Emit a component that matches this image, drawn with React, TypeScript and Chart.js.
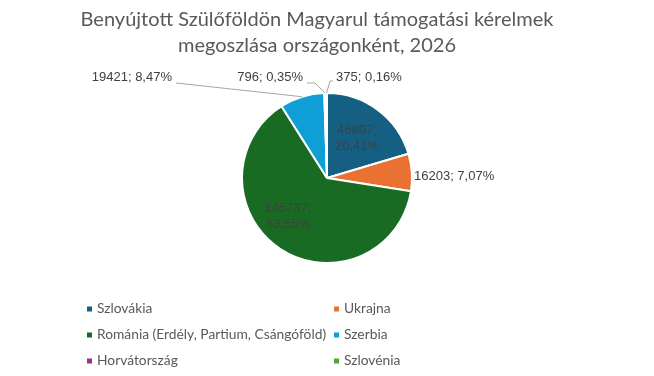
import { useEffect, useRef } from "react";
import { Chart, registerables } from "chart.js";

Chart.register(...registerables);

const titleLines = [
  "Benyújtott Szülőföldön Magyarul támogatási kérelmek",
  "megoszlása országonként, 2026",
];
const countries = [
  "Szlovákia",
  "Ukrajna",
  "Románia (Erdély, Partium, Csángóföld)",
  "Szerbia",
  "Horvátország",
  "Szlovénia",
];
const requests = [46807, 16203, 145737, 19421, 796, 375];
const sliceColors = ["#156082", "#E97132", "#196B24", "#0F9ED5", "#A02B93", "#4EA72E"];

// Label placement relative to pie centre (annotation layout only)
type LabelPos = {
  dx: number;
  dy: number;
  align: CanvasTextAlign;
  split: boolean;
  leader?: number[][]; // points relative to centre, ending at the arc anchor
};
const labelLayout: LabelPos[] = [
  { dx: 30, dy: -40, align: "center", split: true },
  { dx: 87, dy: -2, align: "left", split: false },
  { dx: -39, dy: 38, align: "center", split: true },
  { dx: -155, dy: -101, align: "right", split: false, leader: [[-151, -95]] },
  { dx: -24, dy: -101, align: "right", split: false, leader: [[-20, -95], [-12, -95]] },
  { dx: 9, dy: -101, align: "left", split: false, leader: [[6, -97], [3, -97]] },
];

const FONT_UI = "Lato, 'Open Sans', sans-serif";
const FONT_LABEL = "'Liberation Sans', Arial, sans-serif";

function fmtPct(v: number, total: number) {
  return ((v / total) * 100).toFixed(2).replace(".", ",") + "%";
}

const annotatePlugin = {
  id: "annotate",
  afterDraw(chart: any) {
    const ctx: CanvasRenderingContext2D = chart.ctx;
    const meta = chart.getDatasetMeta(0);
    const total = requests.reduce((a, b) => a + b, 0);
    ctx.save();
    // Title
    ctx.fillStyle = "#595959";
    ctx.font = `20px ${FONT_UI}`;
    ctx.textAlign = "center";
    ctx.textBaseline = "middle";
    ctx.fillText(titleLines[0], 317, 20);
    ctx.fillText(titleLines[1], 317, 46);

    // Data labels
    meta.data.forEach((arc: any, i: number) => {
      const lay = labelLayout[i];
      const cx = arc.x;
      const cy = arc.y;
      const mid = (arc.startAngle + arc.endAngle) / 2;
      const r = arc.outerRadius;
      const ax = cx + Math.cos(mid) * r;
      const ay = cy + Math.sin(mid) * r;
      if (lay.leader) {
        ctx.strokeStyle = "#A6A6A6";
        ctx.lineWidth = 1;
        ctx.beginPath();
        lay.leader.forEach((p, k) => {
          const px = cx + p[0];
          const py = cy + p[1];
          if (k === 0) ctx.moveTo(px, py);
          else ctx.lineTo(px, py);
        });
        ctx.lineTo(ax, ay);
        ctx.stroke();
      }
      ctx.fillStyle = "#404040";
      ctx.font = `13px ${FONT_LABEL}`;
      ctx.textAlign = lay.align;
      ctx.textBaseline = "middle";
      const v = requests[i];
      const pct = fmtPct(v, total);
      const tx = cx + lay.dx;
      const ty = cy + lay.dy;
      if (lay.split) {
        ctx.fillText(`${v};`, tx, ty - 8);
        ctx.fillText(pct, tx, ty + 8);
      } else {
        ctx.fillText(`${v}; ${pct}`, tx, ty);
      }
    });

    // Legend (two columns)
    ctx.font = `13.8px ${FONT_UI}`;
    ctx.textAlign = "left";
    ctx.textBaseline = "middle";
    countries.forEach((name, i) => {
      const col = i % 2;
      const row = Math.floor(i / 2);
      const mx = col === 0 ? 87 : 334;
      const my = 309 + row * 26;
      ctx.fillStyle = sliceColors[i];
      ctx.fillRect(mx, my - 2.5, 5, 5);
      ctx.fillStyle = "#595959";
      ctx.fillText(name, mx + 10, my);
    });
    ctx.restore();
  },
};

export default function App() {
  const ref = useRef<HTMLCanvasElement>(null);
  useEffect(() => {
    if (!ref.current) return;
    const chart = new Chart(ref.current, {
      type: "pie",
      data: {
        labels: countries,
        datasets: [
          {
            data: requests,
            backgroundColor: sliceColors,
            borderColor: "#ffffff",
            borderWidth: 2,
          },
        ],
      },
      options: {
        animation: false,
        responsive: true,
        maintainAspectRatio: false,
        layout: { padding: { top: 92, bottom: 112, left: 241, right: 241 } },
        plugins: {
          legend: { display: false },
          tooltip: { enabled: false },
          title: { display: false },
        },
      },
      plugins: [annotatePlugin],
    });
    return () => chart.destroy();
  }, []);
  return (
    <div style={{ position: "fixed", left: 0, top: 0, width: 654, height: 376, background: "#fff" }}>
      <canvas ref={ref} />
    </div>
  );
}
